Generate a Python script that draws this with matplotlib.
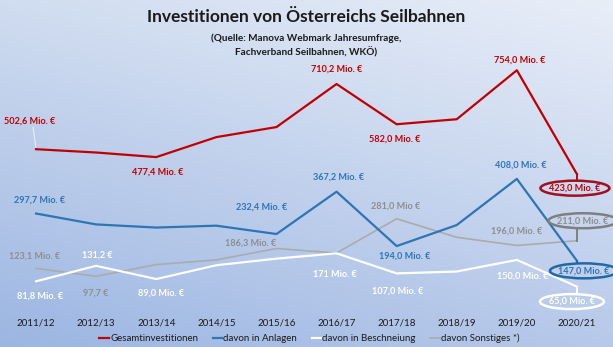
import numpy as np
import matplotlib
matplotlib.use("Agg")
import matplotlib.pyplot as plt
from matplotlib.colors import to_rgb
from matplotlib.patches import Ellipse
from matplotlib.transforms import ScaledTranslation

plt.rcParams["font.family"] = ["Lato", "DejaVu Sans"]

# Seasons and investment figures (Mio. EUR)
seasons = ["2011/12", "2012/13", "2013/14", "2014/15", "2015/16",
           "2016/17", "2017/18", "2018/19", "2019/20", "2020/21"]
gesamt = [502.6, 492.0, 477.4, 541.0, 573.0, 710.2, 582.0, 598.0, 754.0, 423.0]
anlagen = [297.7, 263.0, 253.0, 259.0, 232.4, 367.2, 194.0, 261.0, 408.0, 147.0]
beschneiung = [81.8, 131.2, 89.0, 133.0, 154.0, 171.0, 107.0, 113.0, 150.0, 65.0]
sonstiges = [123.1, 97.7, 135.0, 150.0, 186.3, 172.0, 281.0, 222.0, 196.0, 211.0]

series_names = ["Gesamtinvestitionen", "davon in Anlagen",
                "davon in Beschneiung", "davon Sonstiges *)"]

# labelled points: index -> text
gesamt_labels = {0: "502,6 Mio. €", 2: "477,4 Mio. €", 5: "710,2 Mio. €",
                 6: "582,0 Mio. €", 8: "754,0 Mio. €", 9: "423,0 Mio. €"}
anlagen_labels = {0: "297,7 Mio. €", 4: "232,4 Mio. €", 5: "367,2 Mio. €",
                  6: "194,0 Mio. €", 8: "408,0 Mio. €", 9: "147,0 Mio. €"}
beschneiung_labels = {0: "81,8 Mio. €", 1: "131,2 €", 2: "89,0 Mio. €",
                      5: "171 Mio. €", 6: "107,0 Mio. €", 8: "150,0 Mio. €",
                      9: "65,0 Mio. €"}
sonstiges_labels = {0: "123,1 Mio. €", 1: "97,7 €", 4: "186,3 Mio. €",
                    6: "281,0 Mio €", 8: "196,0 Mio. €", 9: "211,0 Mio. €"}

# label offsets in pixels (dx, dy)
gesamt_off = {0: (-6, 28), 2: (1, -15), 5: (0, 15), 6: (-2, -15), 8: (3, 10), 9: (-2, -14)}
anlagen_off = {0: (4, 13), 4: (-15, 27), 5: (2, 15), 6: (8, -10), 8: (4, 14), 9: (7, -10)}
beschneiung_off = {0: (4, -15), 1: (1, 11), 2: (5, -14), 5: (-2, -21),
                   6: (1, -18), 8: (6, -16), 9: (-5, -15)}
sonstiges_off = {0: (-1, 12), 1: (0, -17), 4: (-26, 5), 6: (-1, 13),
                 8: (0, 14), 9: (6, 20)}

red = "#C00000"
blue = "#2E75B6"
white = "#FFFFFF"
grey_line = "#ABABAB"
grey_text = "#8E8E8E"

fig = plt.figure(figsize=(6.13, 3.47), dpi=100)

# background gradient
bg = fig.add_axes([0, 0, 1, 1], zorder=-10)
tl, tr = np.array(to_rgb("#D0DCF0")), np.array(to_rgb("#E8EEF8"))
bl, br = np.array(to_rgb("#9CB6E2")), np.array(to_rgb("#B7C9EA"))
h, w = 60, 100
yy, xx = np.mgrid[0:1:h * 1j, 0:1:w * 1j]
grad = ((1 - yy)[..., None] * ((1 - xx)[..., None] * tl + xx[..., None] * tr)
        + yy[..., None] * ((1 - xx)[..., None] * bl + xx[..., None] * br))
bg.imshow(grad, aspect="auto", extent=[0, 1, 0, 1], interpolation="bilinear")
bg.axis("off")

ax = fig.add_axes([6 / 613, 40 / 347, 601 / 613, 251.2 / 347])
ax.patch.set_alpha(0)
x = np.arange(len(seasons))

ax.plot(x, gesamt, color=red, lw=1.6, label=series_names[0], zorder=4)
ax.plot(x, anlagen, color=blue, lw=1.6, label=series_names[1], zorder=3)
ax.plot(x, beschneiung, color=white, lw=1.6, label=series_names[2], zorder=2)
ax.plot(x, sonstiges, color=grey_line, lw=1.2, label=series_names[3], zorder=1)

ax.set_xlim(-0.5, len(seasons) - 0.5)
ax.set_ylim(0, 800)
ax.set_yticks([])
ax.set_xticks(x)
ax.set_xticklabels(seasons, fontsize=7, color="#1A1A1A")
ax.tick_params(axis="x", length=0, pad=8)
for s in ax.spines.values():
    s.set_visible(False)


def px_trans(xv, yv):
    # pixel offsets (1/100 inch at dpi 100) anchored at a data point
    return fig.dpi_scale_trans + ScaledTranslation(xv, yv, ax.transData)


def add_labels(vals, labels, offsets, color, ring=None):
    last = len(seasons) - 1
    for i, txt in labels.items():
        dx, dy = offsets[i]
        ax.annotate(txt, xy=(x[i], vals[i]), xytext=(dx, dy),
                    textcoords="offset pixels", ha="center", va="center",
                    fontsize=6.6, fontweight="bold", color=color, zorder=6)
        if i == last and ring is not None:
            ring_color, ew, eh = ring
            tr = px_trans(x[i], vals[i])
            ax.add_patch(Ellipse((dx / 100, dy / 100), ew / 100, eh / 100,
                                 transform=tr, fill=False, ec=ring_color,
                                 lw=1.8, zorder=6, clip_on=False))
            # short connector from the point to the ring
            edge = dy - np.sign(dy) * eh / 2
            if abs(edge) > 1:
                ax.plot([0, 0], [0, edge / 100], color=ring_color, lw=1.4,
                        transform=tr, zorder=5, clip_on=False)


add_labels(gesamt, gesamt_labels, gesamt_off, red, ("#A0101E", 69, 15))
add_labels(anlagen, anlagen_labels, anlagen_off, blue, ("#1F6AA5", 68, 15))
add_labels(beschneiung, beschneiung_labels, beschneiung_off, white, (white, 64, 15))
add_labels(sonstiges, sonstiges_labels, sonstiges_off, grey_text, ("#7F7F7F", 69, 15))

# faint leader for first total label
ax.annotate("", xy=(x[0], gesamt[0]), xytext=(-3, 22), textcoords="offset pixels",
            arrowprops=dict(arrowstyle="-", color="#E8EEF8", lw=0.8,
                            shrinkA=0, shrinkB=0))

leg = ax.legend(loc="upper center", bbox_to_anchor=(0.505, -0.09), ncol=4,
                frameon=False, fontsize=7, handlelength=1.0, handletextpad=0.1,
                columnspacing=1.5, borderaxespad=0)
for t in leg.get_texts():
    t.set_color("#1A1A1A")

fig.text(0.5, 1 - 17 / 347, "Investitionen von Österreichs Seilbahnen",
         ha="center", va="center", fontsize=12.5, fontweight="bold", color="#1A1A1A")
fig.text(0.5, 1 - 38 / 347, "(Quelle: Manova Webmark Jahresumfrage,",
         ha="center", va="center", fontsize=7.2, fontweight="bold", color="#1A1A1A")
fig.text(0.5, 1 - 52 / 347, "Fachverband Seilbahnen, WKÖ)",
         ha="center", va="center", fontsize=7.2, fontweight="bold", color="#1A1A1A")

fig.savefig("out.png", dpi=100)
